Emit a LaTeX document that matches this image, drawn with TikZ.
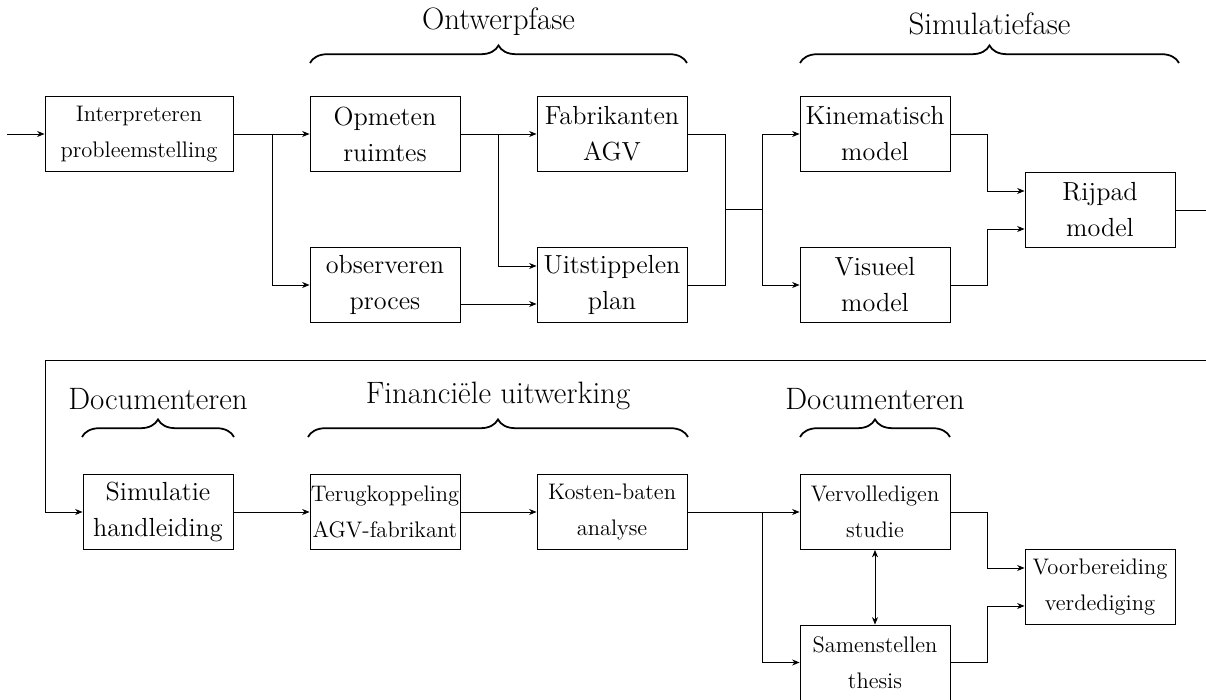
\documentclass[tikz,border=0pt]{standalone}
\usetikzlibrary{decorations.pathreplacing,arrows.meta}
\begin{document}
\begin{tikzpicture}[>={Stealth[length=4.2pt,width=3.4pt,inset=1.3pt]}, line width=0.5pt,
  box/.style={draw, minimum width=3cm, minimum height=1.5cm, align=center, inner sep=0pt,
              font=\fontsize{14.9}{20.5}\selectfont},
  smallbox/.style={box, font=\fontsize{12.8}{20.5}\selectfont},
  lbl/.style={anchor=south, font=\fontsize{17.6}{21}\selectfont},
  brc/.style={decorate, decoration={brace, amplitude=10pt}, line width=1pt}]
\useasboundingbox (0,0) rectangle (24.12,14);
% row 1
\node[smallbox, minimum width=3.76cm] (interp) at (2.78,11.32) {Interpreteren\\probleemstelling};
\node[box] (opm) at (7.7,11.32) {Opmeten\\ruimtes};
\node[box] (obs) at (7.7,8.30) {observeren\\proces};
\node[box] (fab) at (12.24,11.32) {Fabrikanten\\AGV};
\node[box] (uit) at (12.24,8.30) {Uitstippelen\\plan};
\node[box] (kin) at (17.5,11.32) {Kinematisch\\model};
\node[box] (vis) at (17.5,8.30) {Visueel\\model};
\node[box] (rij) at (22.0,9.80) {Rijpad\\model};
% row 2
\node[box] (sim) at (3.16,3.76) {Simulatie\\handleiding};
\node[smallbox] (ter) at (7.7,3.76) {Terugkoppeling\\AGV-fabrikant};
\node[smallbox] (kos) at (12.24,3.76) {Kosten-baten\\analyse};
\node[smallbox] (ver) at (17.5,3.76) {Vervolledigen\\studie};
\node[smallbox] (sam) at (17.5,0.75) {Samenstellen\\thesis};
\node[smallbox] (voo) at (22.0,2.26) {Voorbereiding\\verdediging};
% coordinates
\coordinate (in) at (0.14,11.32);
\coordinate (j1) at (5.44,11.32);
\coordinate (j2) at (9.96,11.32);
\coordinate (j3) at (14.5,9.81);
\coordinate (j4) at (15.24,9.81);
\coordinate (j5) at (19.74,9.80);
\coordinate (lr1) at (24.25,9.80);
\coordinate (lr2) at (24.25,6.79);
\coordinate (ll) at (0.9,6.79);
\coordinate (j6) at (15.24,3.76);
\coordinate (j7) at (19.74,2.26);
% connectors row 1
\draw[->] (in) -- (interp.west);
\draw[->] (interp.east) -- (opm.west);
\draw[->] (j1) |- (obs.west);
\draw[->] (opm.east) -- (fab.west);
\draw[->] (j2) |- ([yshift=0.38cm]uit.west);
\draw[->] ([yshift=-0.38cm]obs.east) -- ([yshift=-0.38cm]uit.west);
\draw (fab.east) -| (j3);
\draw (uit.east) -| (j3);
\draw (j3) -- (j4);
\draw[->] (j4) |- (kin.west);
\draw[->] (j4) |- (vis.west);
\draw[->] (kin.east) -- (kin.east -| j5) |- ([yshift=0.38cm]rij.west);
\draw[->] (vis.east) -- (vis.east -| j5) |- ([yshift=-0.38cm]rij.west);
\draw[->] (rij.east) -- (lr1) -- (lr2) -- (ll) |- (sim.west);
% connectors row 2
\draw[->] (sim.east) -- (ter.west);
\draw[->] (ter.east) -- (kos.west);
\draw[->] (kos.east) -- (ver.west);
\draw[->] (j6) |- (sam.west);
\draw[<->] (ver.south) -- (sam.north);
\draw[->] (ver.east) -- (ver.east -| j7) |- ([yshift=0.38cm]voo.west);
\draw[->] (sam.east) -- (sam.east -| j7) |- ([yshift=-0.38cm]voo.west);
% braces
\draw[brc] (6.2,12.74) -- (13.74,12.74);
\node[lbl] (l1) at (9.97,13.17) {Ontwerpfase};
\draw[brc] (16.0,12.74) -- (23.58,12.74);
\node[lbl] (l2) at (19.79,13.17) {Simulatiefase};
\draw[brc] (1.64,5.26) -- (4.68,5.26);
\node[lbl] (l3) at (3.16,5.68) {Documenteren};
\draw[brc] (6.16,5.26) -- (13.76,5.26);
\node[lbl] (l4) at (9.96,5.68) {Financiële uitwerking};
\draw[brc] (16.0,5.26) -- (19.0,5.26);
\node[lbl] (l5) at (17.5,5.68) {Documenteren};
\end{tikzpicture}
\end{document}
